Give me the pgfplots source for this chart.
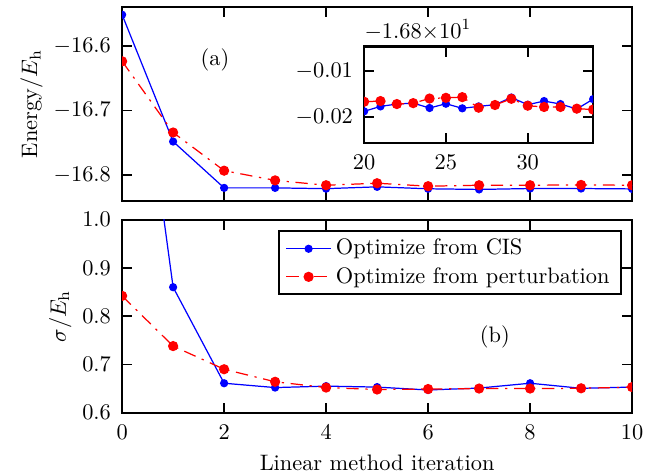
\documentclass[border=0pt]{standalone}
\usepackage{pgfplots}
\pgfplotsset{compat=1.18}
\usepackage{pgfplotstable}

% energy (a)
\pgfplotstableread{
x y
0 -16.552
1 -16.748
2 -16.8196
3 -16.8196
4 -16.8208
5 -16.818
6 -16.821
7 -16.822
8 -16.8206
9 -16.8206
10 -16.8212
}\encis
\pgfplotstableread{
x y
0 -16.624
1 -16.734
2 -16.793
3 -16.808
4 -16.8155
5 -16.8124
6 -16.817
7 -16.8155
8 -16.8155
9 -16.815
10 -16.8155
}\enpert

% inset, offset -16.8
\pgfplotstableread{
x y
20 -0.01878
21 -0.01771
22 -0.01720
23 -0.01700
24 -0.01806
25 -0.01713
26 -0.01813
27 -0.01771
28 -0.01734
29 -0.01578
30 -0.01734
31 -0.01655
32 -0.01720
33 -0.01827
34 -0.01613
}\incis
\pgfplotstableread{
x y
20 -0.01670
21 -0.01655
22 -0.01720
23 -0.01700
24 -0.01600
25 -0.01585
26 -0.01570
27 -0.01800
28 -0.01741
29 -0.01606
30 -0.01756
31 -0.01784
32 -0.01784
33 -0.01820
34 -0.01840
}\inpert

% sigma (b)
\pgfplotstableread{
x y
0 1.64
1 0.860
2 0.661
3 0.652
4 0.655
5 0.653
6 0.647
7 0.651
8 0.661
9 0.6505
10 0.653
}\sigcis
\pgfplotstableread{
x y
0 0.842
1 0.738
2 0.690
3 0.664
4 0.652
5 0.648
6 0.649
7 0.650
8 0.650
9 0.6505
10 0.653
}\sigpert

\begin{document}
\begin{tikzpicture}
\pgfplotsset{
  every axis/.append style={
    scale only axis,
    axis line style={line width=1pt},
    every tick/.style={black, line width=0.8pt},
    major tick length=4.5pt,
    tick align=inside,
    xtick pos=both, ytick pos=both,
    clip marker paths=true,
    scaled ticks=false,
    yticklabel style={xshift=-1.5pt},
    xticklabel style={yshift=-2pt},
  },
  cis/.style={blue, line width=0.55pt, mark=*, mark size=1.55pt, mark options={solid}},
  pert/.style={red, line width=0.55pt, dash pattern=on 5.5pt off 3pt on 1pt off 3pt,
    mark=*, mark size=2pt, mark options={solid}},
}

\begin{axis}[
    name=top,
    at={(0,0)}, anchor=north west,
    width=228pt, height=86.8pt,
    xmin=0, xmax=10, ymin=-16.84, ymax=-16.54,
    xtick={0,2,...,10}, xticklabels={},
    ytick={-16.8,-16.7,-16.6},
    yticklabel style={/pgf/number format/.cd, fixed, fixed zerofill, precision=1},
    ylabel={Energy/$E_\mathrm{h}$},
    ylabel style={yshift=-2pt},
]
\addplot[cis] table {\encis};
\addplot[pert] table {\enpert};
\node at (axis cs:1.82,-16.622) {(a)};
\end{axis}

\begin{axis}[
    name=inset,
    at={(top.north west)}, anchor=north west,
    xshift=108.2pt, yshift=-17.7pt,
    width=102.4pt, height=43pt,
    axis background/.style={fill=white},
    xmin=20, xmax=34, ymin=-0.0256, ymax=-0.0047,
    xtick={20,25,30}, ytick={-0.02,-0.01},
    yticklabel style={/pgf/number format/.cd, fixed, fixed zerofill, precision=2},
]
\addplot[cis] table {\incis};
\addplot[pert] table {\inpert};
\end{axis}
\node[anchor=base west, inner sep=0pt] at ([yshift=3.8pt]inset.north west) {$-1.68{\times}10^{1}$};

\begin{axis}[
    name=bot,
    at={(top.south west)}, anchor=north west, yshift=-8.3pt,
    width=228pt, height=86.3pt,
    xmin=0, xmax=10, ymin=0.6, ymax=1.0,
    xtick={0,2,...,10},
    ytick={0.6,0.7,0.8,0.9,1.0},
    yticklabel style={/pgf/number format/.cd, fixed, fixed zerofill, precision=1},
    xlabel={Linear method iteration},
    ylabel={$\sigma/E_\mathrm{h}$},
    ylabel style={yshift=-2pt},
    legend style={at={(rel axis cs:0.98,0.945)}, anchor=north east,
      draw=black, line width=1pt, cells={anchor=west},
      inner xsep=3pt, inner ysep=1.5pt},
    legend image code/.code={
      \draw[mark repeat=2, mark phase=2] plot coordinates {(0cm,0cm) (0.35cm,0cm) (0.7cm,0cm)};
    },
]
\addplot[cis] table {\sigcis};
\addlegendentry{Optimize from CIS}
\addplot[pert] table {\sigpert};
\addlegendentry{Optimize from perturbation}
\node at (axis cs:7.31,0.7575) {(b)};
\end{axis}

\pgfresetboundingbox
\path (-54.6pt,3.1pt) rectangle (237.8pt,-209.1pt);
\end{tikzpicture}
\end{document}
